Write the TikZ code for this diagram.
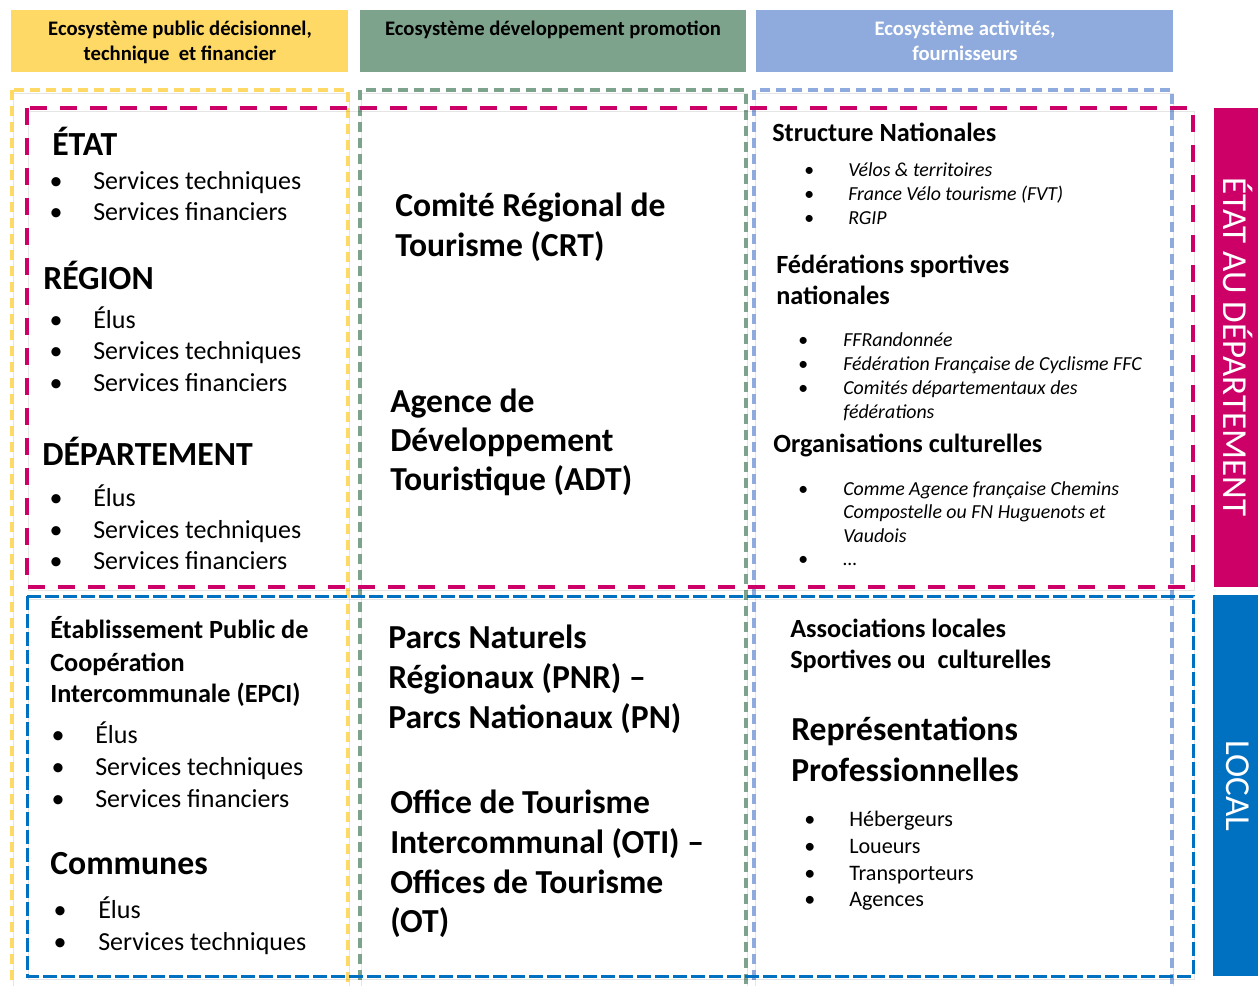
\documentclass[tikz,border=0pt]{standalone}
\usepackage{fontspec}
\setmainfont{Carlito}
\usepackage{tikz}

\definecolor{jaune}{HTML}{FFD966}
\definecolor{vert}{HTML}{7DA38C}
\definecolor{bleuclair}{HTML}{8FAADC}
\definecolor{framboise}{HTML}{CC0066}
\definecolor{bleu}{HTML}{0070C0}

\begin{document}
\begin{tikzpicture}[x=0.75pt, y=-0.75pt,
    ombre/.style={preaction={draw=black, opacity=.1, transform canvas={shift={(1,3.5)}}}},
    colonne/.style={ombre, line width=2.4pt, dash pattern=on 7.5pt off 4.5pt},
    niveau/.style={anchor=base west, inner sep=0, font=\bfseries\fontsize{25.3}{30}\selectfont},
    liste/.style={anchor=base west, inner sep=0, font=\fontsize{19.5}{24}\selectfont},
    puce/.style={anchor=base, inner sep=0},
    entete/.style={anchor=base, inner sep=0, font=\bfseries\fontsize{15.5}{19}\selectfont},
    organe/.style={anchor=base west, inner sep=0, font=\bfseries\fontsize{25.2}{30}\selectfont},
    rubrique/.style={anchor=base west, inner sep=0, font=\bfseries\fontsize{19.7}{24}\selectfont},
    exemple/.style={anchor=base west, inner sep=0, font=\itshape\fontsize{14.9}{18}\selectfont},
    metier/.style={anchor=base west, inner sep=0, font=\fontsize{16.6}{20}\selectfont},
    bande/.style={rotate=-90, inner sep=0, text=white, font=\fontsize{26.3}{30}\selectfont}]
    \useasboundingbox (0,0) rectangle (1258,986);

    % bandeaux du haut
    \fill[jaune] (11,10) rectangle (348,72);
    \fill[vert] (360,10) rectangle (746,72);
    \fill[bleuclair] (756,10) rectangle (1173,72);
    \node[entete] (eco1a) at (180,35) {Ecosystème public décisionnel,};
    \node[entete] (eco1b) at (180,60) {technique\ \ et financier};
    \node[entete] (eco2) at (553,35) {Ecosystème développement promotion};
    \node[entete, text=white] (eco3a) at (965,35) {Ecosystème activités,};
    \node[entete, text=white] (eco3b) at (965,60) {fournisseurs};

    % colonnes
    \draw[colonne, jaune] (12,90) rectangle (348,1000);
    \draw[colonne, vert] (360,90) rectangle (746,1000);
    \draw[colonne, bleuclair] (754,90) rectangle (1172,1000);

    % niveaux
    \draw[ombre, framboise, line width=3pt, dash pattern=on 12.75pt off 9.75pt] (27,108) rectangle (1193,587);
    \draw[ombre, bleu, line width=2.25pt, dash pattern=on 10.5pt off 3pt] (27,596) rectangle (1193,976);
    \fill[framboise] (1214,108) rectangle (1258,587);
    \fill[bleu] (1213,595) rectangle (1258,976);
    \node[bande] (etatdep) at (1238,347) {ÉTAT AU DÉPARTEMENT};
    \node[bande] (local) at (1238,786) {LOCAL};

    % colonne publique, haut
    \node[niveau] (etat) at (52,155) {ÉTAT};
    \foreach \y/\t [count=\i] in {189/Services techniques, 220/Services financiers}{
        \node[liste, puce] (etatp\i) at (56,\y) {\textbullet};
        \node[liste] (etat\i) at (93,\y) {\t};
    }
    \node[niveau] (region) at (43,289) {RÉGION};
    \foreach \y/\t [count=\i] in {328/Élus, 359/Services techniques, 391/Services financiers}{
        \node[liste, puce] (regp\i) at (56,\y) {\textbullet};
        \node[liste] (reg\i) at (93,\y) {\t};
    }
    \node[niveau] (dep) at (42,465) {DÉPARTEMENT};
    \foreach \y/\t [count=\i] in {506/Élus, 538/Services techniques, 569/Services financiers}{
        \node[liste, puce] (depp\i) at (56,\y) {\textbullet};
        \node[liste] (dep\i) at (93,\y) {\t};
    }

    % colonne publique, bas
    \foreach \y/\t [count=\i] in {638/Établissement Public de, 671/Coopération, 702/Intercommunale (EPCI)}
        \node[rubrique] (epci\i) at (50,\y) {\t};
    \foreach \y/\t [count=\i] in {743/Élus, 775/Services techniques, 807/Services financiers}{
        \node[liste, puce] (epcip\i) at (58,\y) {\textbullet};
        \node[liste] (epcil\i) at (95,\y) {\t};
    }
    \node[niveau] (communes) at (50,874) {Communes};
    \foreach \y/\t [count=\i] in {918/Élus, 950/Services techniques}{
        \node[liste, puce] (comp\i) at (60,\y) {\textbullet};
        \node[liste] (com\i) at (98,\y) {\t};
    }

    % colonne promotion
    \foreach \y/\t [count=\i] in {216/Comité Régional de, 256/Tourisme (CRT)}
        \node[organe] (crt\i) at (395,\y) {\t};
    \foreach \y/\t [count=\i] in {412/Agence de, 451/Développement, 490/Touristique (ADT)}
        \node[organe] (adt\i) at (390,\y) {\t};
    \foreach \y/\t [count=\i] in {648/Parcs Naturels, 688/Régionaux (PNR) –, 728/Parcs Nationaux (PN)}
        \node[organe] (pnr\i) at (388,\y) {\t};
    \foreach \y/\t [count=\i] in {813/Office de Tourisme, 853/Intercommunal (OTI) –, 893/Offices de Tourisme, 932/(OT)}
        \node[organe] (oti\i) at (390,\y) {\t};

    % colonne activites, haut
    \node[rubrique] (struct) at (772,141) {Structure Nationales};
    \foreach \y/\t [count=\i] in {176/Vélos \& territoires, 200/France Vélo tourisme (FVT), 224/RGIP}{
        \node[exemple, puce] (structp\i) at (809,\y) {\textbullet};
        \node[exemple] (struct\i) at (848,\y) {\t};
    }
    \node[rubrique] (fed1) at (776,273) {Fédérations sportives};
    \node[rubrique] (fed2) at (776,304) {nationales};
    \foreach \y/\t [count=\i] in {346/FFRandonnée, 370/Fédération Française de Cyclisme FFC, 394/Comités départementaux des}
        \node[exemple, puce] (fedp\i) at (803,\y) {\textbullet};
    \foreach \y/\t [count=\i] in {346/FFRandonnée, 370/Fédération Française de Cyclisme FFC, 394/Comités départementaux des, 418/fédérations}
        \node[exemple] (fedl\i) at (843,\y) {\t};
    \node[rubrique] (orga) at (773,452) {Organisations culturelles};
    \node[exemple, puce] (orgap1) at (803,495) {\textbullet};
    \node[exemple, puce] (orgap2) at (803,565) {\textbullet};
    \foreach \y/\t [count=\i] in {495/Comme Agence française Chemins, 518/Compostelle ou FN Huguenots et, 542/Vaudois, 565/…}
        \node[exemple] (orga\i) at (843,\y) {\t};

    % colonne activites, bas
    \node[rubrique] (asso1) at (790,637) {Associations locales};
    \node[rubrique] (asso2) at (790,668) {Sportives ou\ \ culturelles};
    \node[organe] (repr1) at (791,740) {Représentations};
    \node[organe] (repr2) at (791,781) {Professionnelles};
    \foreach \y/\t [count=\i] in {826/Hébergeurs, 853/Loueurs, 880/Transporteurs, 906/Agences}{
        \node[metier, puce] (prop\i) at (810,\y) {\textbullet};
        \node[metier] (pro\i) at (849,\y) {\t};
    }
\end{tikzpicture}
\end{document}
